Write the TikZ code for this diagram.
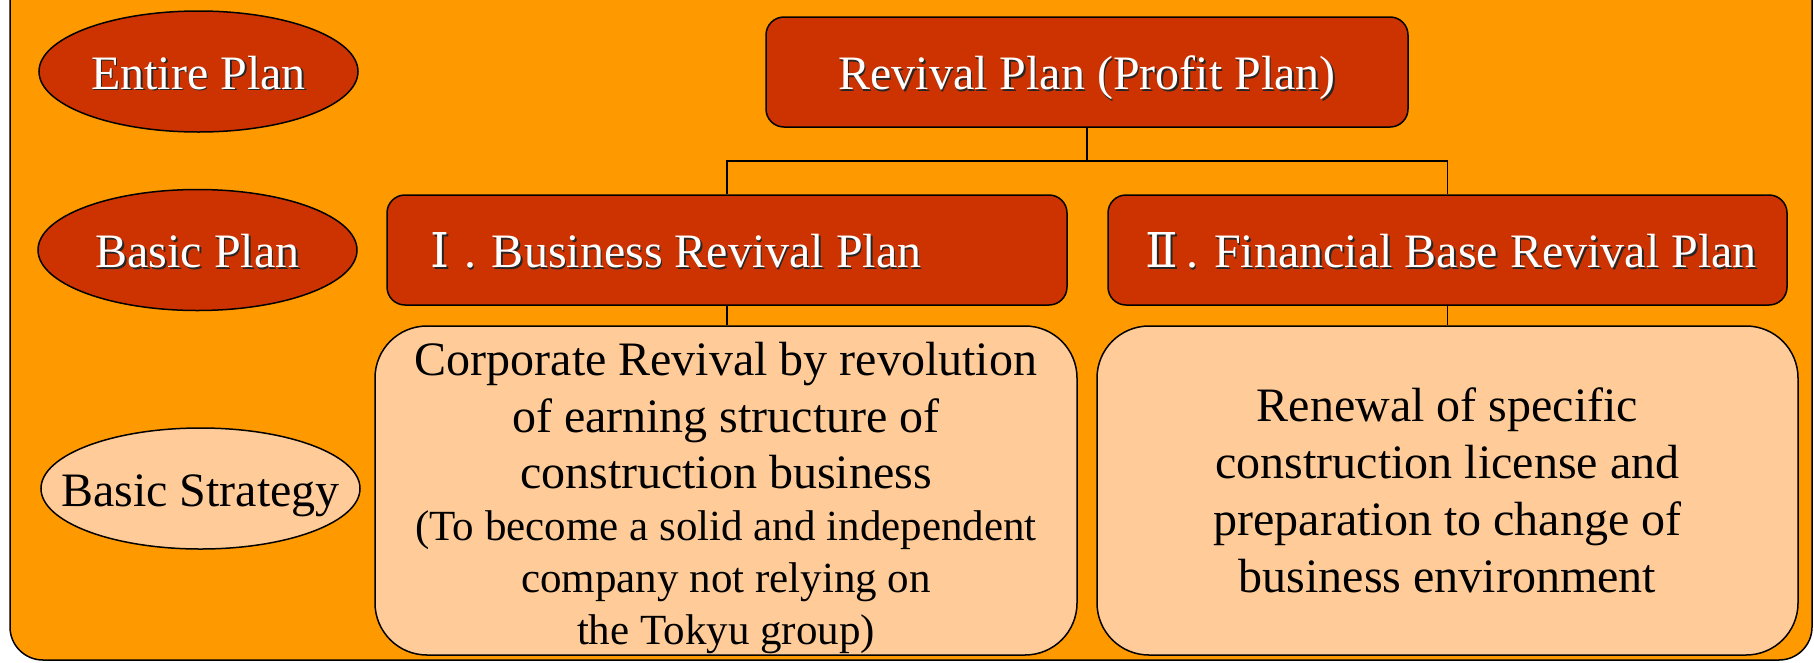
\documentclass[tikz,border=0pt]{standalone}
\usepackage{fontspec}
\setmainfont{Liberation Serif}
\newfontfamily\numeralfont{DejaVu Serif}
\usetikzlibrary{shapes.geometric}
\definecolor{bgorange}{HTML}{FF9900}
\definecolor{planred}{HTML}{CC3300}
\definecolor{peach}{HTML}{FFCC99}
% white lettering with a dark drop shadow
\newcommand\shadowtxt[1]{\makebox[0pt][l]{\hspace{1.6pt}\raisebox{-1.6pt}{\color{black!85}#1}}{\color{white}#1}}
% roman numeral set in a full-width cell
\newcommand\romancell[1]{\makebox[48pt]{\numeralfont #1}}

\begin{document}
\begin{tikzpicture}[x=1pt,y=-1pt,
  every node/.style={font=\fontsize{48}{57}\selectfont, inner sep=0pt},
  outline/.style={draw=black, line width=1.5pt},
  connector/.style={draw=black, line width=1.3pt},
  levelellipse/.style={outline, ellipse, minimum width=319pt, minimum height=121pt,
    text height=35pt, text depth=0pt},
  redbox/.style={outline, fill=planred, rounded corners=18pt, minimum height=110pt,
    text height=35pt, text depth=0pt},
  strategybox/.style={outline, fill=peach, rounded corners=52pt, minimum height=329pt}
]
% canvas
\fill[white] (0,0) rectangle (1814,662);
\useasboundingbox (0,0) rectangle (1814,662);
\clip (0,0) rectangle (1814,662);

% orange panel
\draw[outline, fill=bgorange, rounded corners=33pt] (10,-60) rectangle (1812,660);

% level labels
\node[levelellipse, fill=planred] (lvl1) at (198.5,71.5) {\makebox[0pt]{\shadowtxt{Entire Plan}}};
\node[levelellipse, fill=planred] (lvl2) at (197.5,250) {\makebox[0pt]{\shadowtxt{Basic Plan}}};
\node[levelellipse, fill=peach] (lvl3) at (200.5,488.5) {\makebox[0pt]{Basic Strategy}};

% plan boxes
\node[redbox, minimum width=642pt] (top) at (1087,72) {\shadowtxt{Revival Plan (Profit Plan)}};
\node[redbox, minimum width=680pt] (b1) at (727,250)
  {\makebox[622pt][l]{\shadowtxt{\romancell{Ⅰ}. Business Revival Plan}}};
\node[redbox, minimum width=679pt] (b2) at (1447.5,250)
  {\shadowtxt{\romancell{Ⅱ}. Financial Base Revival Plan}};

% strategy boxes
\node[strategybox, minimum width=702pt] (s1) at (726,490.5) {};
\node[text width=680pt, align=flush center] (t1) at (726,498)
  {\fontsize{48}{56.5}\selectfont Corporate Revival by revolution\\of earning structure of\\construction business\par
   \fontsize{43}{52}\selectfont (To become a solid and independent\\company not relying on\\the Tokyu group)\par};
\node[strategybox, minimum width=701pt, text width=640pt, align=flush center] (s2) at (1447.5,490.5)
  {Renewal of specific\\construction license and\\preparation to change of\\business environment};

% connectors
\coordinate (split) at (1087,161);
\draw[connector] (top.south) -- (split);
\draw[connector] (split) -| (b1.north);
\draw[connector] (split) -| (b2.north);
\draw[connector] (b1.south) -- (b1.south |- s1.north);
\draw[connector] (b2.south) -- (b2.south |- s2.north);
\end{tikzpicture}
\end{document}
